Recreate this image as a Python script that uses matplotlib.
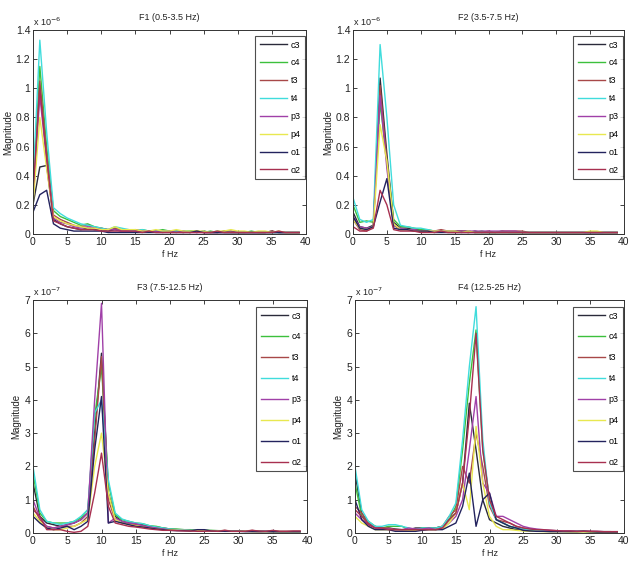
import matplotlib
matplotlib.use("Agg")
import matplotlib.pyplot as plt
from matplotlib import font_manager
import numpy as np

freqs = list(range(40))
channels = ["c3", "c4", "t3", "t4", "p3", "p4", "o1", "o2"]
colors = ["#2a2a3a", "#3cc03c", "#a84848", "#40dcdc", "#a040a8", "#e8e850", "#23235e", "#a83050"]

titles = ["F1 (0.5-3.5 Hz)", "F2 (3.5-7.5 Hz)", "F3 (7.5-12.5 Hz)", "F4 (12.5-25 Hz)"]
exponents = ["-6", "-6", "-7", "-7"]

# F1 magnitudes (x 1e-6)
f1_vals = [
    [0.20,0.46,0.47,0.10,0.07,0.05,0.04,0.03,0.04,0.03,
     0.03,0.02,0.03,0.02,0.02,0.02,0.02,0.02,0.02,0.02,
     0.02,0.02,0.01,0.02,0.01,0.02,0.01,0.01,0.01,0.01,
     0.01,0.01,0.01,0.01,0.01,0.02,0.01,0.01,0.01,0.01],
    [0.30,1.15,0.60,0.16,0.12,0.10,0.08,0.06,0.07,0.05,
     0.04,0.03,0.04,0.03,0.03,0.02,0.03,0.02,0.02,0.03,
     0.02,0.02,0.02,0.02,0.02,0.01,0.02,0.01,0.02,0.01,
     0.01,0.01,0.02,0.01,0.01,0.01,0.01,0.01,0.01,0.01],
    [0.25,1.05,0.55,0.13,0.10,0.08,0.06,0.05,0.06,0.04,
     0.04,0.03,0.04,0.03,0.02,0.03,0.02,0.02,0.02,0.02,
     0.02,0.02,0.02,0.01,0.02,0.01,0.01,0.01,0.02,0.02,
     0.01,0.01,0.01,0.01,0.01,0.02,0.01,0.01,0.01,0.01],
    [0.35,1.33,0.70,0.18,0.14,0.11,0.09,0.07,0.06,0.05,
     0.04,0.03,0.05,0.04,0.03,0.02,0.03,0.02,0.02,0.02,
     0.02,0.02,0.02,0.02,0.01,0.02,0.01,0.02,0.01,0.01,
     0.01,0.01,0.01,0.01,0.01,0.01,0.01,0.01,0.01,0.01],
    [0.22,0.95,0.50,0.11,0.08,0.07,0.05,0.04,0.05,0.04,
     0.03,0.03,0.03,0.02,0.02,0.02,0.02,0.02,0.02,0.01,
     0.02,0.01,0.02,0.01,0.01,0.01,0.01,0.01,0.01,0.01,
     0.01,0.01,0.01,0.01,0.01,0.01,0.01,0.01,0.01,0.01],
    [0.20,0.80,0.45,0.12,0.09,0.07,0.06,0.05,0.04,0.04,
     0.03,0.03,0.05,0.03,0.03,0.03,0.02,0.02,0.03,0.02,
     0.02,0.03,0.02,0.02,0.02,0.02,0.01,0.02,0.02,0.03,
     0.02,0.02,0.01,0.02,0.02,0.01,0.02,0.01,0.01,0.01],
    [0.15,0.27,0.30,0.07,0.04,0.03,0.02,0.02,0.02,0.02,
     0.02,0.01,0.01,0.01,0.01,0.01,0.01,0.01,0.01,0.01,
     0.01,0.01,0.01,0.01,0.02,0.01,0.01,0.01,0.01,0.01,
     0.01,0.01,0.01,0.01,0.01,0.01,0.01,0.01,0.01,0.01],
    [0.28,1.00,0.52,0.09,0.07,0.05,0.04,0.03,0.03,0.03,
     0.02,0.02,0.02,0.02,0.02,0.02,0.01,0.02,0.01,0.01,
     0.01,0.01,0.01,0.01,0.01,0.01,0.01,0.02,0.01,0.01,
     0.01,0.01,0.01,0.01,0.01,0.01,0.02,0.01,0.01,0.01],
]

# F2 magnitudes (x 1e-6)
f2_vals = [
    [0.15,0.05,0.04,0.06,1.07,0.55,0.08,0.04,0.04,0.03,
     0.03,0.02,0.02,0.02,0.02,0.02,0.02,0.01,0.02,0.01,
     0.01,0.01,0.01,0.01,0.01,0.01,0.01,0.01,0.01,0.01,
     0.01,0.01,0.01,0.01,0.01,0.01,0.01,0.01,0.01,0.01],
    [0.20,0.08,0.09,0.08,0.90,0.50,0.10,0.05,0.05,0.04,
     0.03,0.03,0.02,0.02,0.02,0.02,0.02,0.02,0.01,0.02,
     0.01,0.01,0.02,0.01,0.01,0.01,0.01,0.01,0.01,0.01,
     0.01,0.01,0.01,0.01,0.01,0.01,0.01,0.01,0.01,0.01],
    [0.10,0.03,0.02,0.05,1.02,0.50,0.06,0.03,0.03,0.03,
     0.02,0.02,0.02,0.03,0.02,0.02,0.02,0.02,0.01,0.01,
     0.02,0.01,0.02,0.02,0.02,0.02,0.01,0.01,0.01,0.01,
     0.01,0.01,0.01,0.01,0.01,0.01,0.01,0.01,0.01,0.01],
    [0.25,0.10,0.08,0.10,1.30,0.80,0.20,0.06,0.05,0.04,
     0.04,0.03,0.02,0.02,0.02,0.02,0.01,0.02,0.01,0.01,
     0.01,0.01,0.01,0.01,0.01,0.01,0.01,0.01,0.01,0.01,
     0.01,0.01,0.01,0.01,0.01,0.01,0.01,0.01,0.01,0.01],
    [0.12,0.05,0.04,0.05,0.95,0.45,0.06,0.04,0.03,0.03,
     0.02,0.02,0.02,0.02,0.02,0.02,0.02,0.02,0.02,0.02,
     0.02,0.02,0.02,0.02,0.02,0.01,0.01,0.01,0.01,0.01,
     0.01,0.01,0.01,0.01,0.01,0.01,0.01,0.01,0.01,0.01],
    [0.10,0.04,0.03,0.05,0.75,0.50,0.07,0.03,0.03,0.02,
     0.02,0.02,0.02,0.02,0.02,0.02,0.01,0.02,0.01,0.01,
     0.01,0.01,0.01,0.01,0.01,0.01,0.01,0.01,0.01,0.01,
     0.01,0.01,0.01,0.01,0.01,0.02,0.02,0.01,0.01,0.01],
    [0.12,0.04,0.03,0.05,0.22,0.38,0.04,0.03,0.03,0.02,
     0.02,0.02,0.01,0.01,0.01,0.01,0.01,0.01,0.01,0.01,
     0.01,0.01,0.01,0.01,0.01,0.01,0.01,0.01,0.01,0.01,
     0.01,0.01,0.01,0.01,0.01,0.01,0.01,0.01,0.01,0.01],
    [0.05,0.02,0.02,0.04,0.30,0.20,0.03,0.02,0.02,0.02,
     0.01,0.01,0.01,0.02,0.01,0.01,0.01,0.01,0.01,0.01,
     0.01,0.01,0.01,0.01,0.01,0.01,0.01,0.01,0.01,0.01,
     0.01,0.01,0.01,0.01,0.01,0.01,0.01,0.01,0.01,0.01],
]

# F3 magnitudes (x 1e-7)
f3_vals = [
    [1.50,0.50,0.30,0.25,0.20,0.25,0.30,0.40,0.60,3.00,
     5.40,1.20,0.50,0.35,0.30,0.28,0.25,0.20,0.18,0.15,
     0.12,0.10,0.10,0.08,0.08,0.08,0.07,0.07,0.06,0.06,
     0.06,0.05,0.05,0.05,0.05,0.04,0.04,0.04,0.04,0.04],
    [1.80,0.60,0.35,0.30,0.30,0.30,0.35,0.45,0.70,3.50,
     5.00,1.50,0.55,0.40,0.35,0.30,0.28,0.22,0.20,0.15,
     0.12,0.12,0.10,0.10,0.08,0.08,0.08,0.07,0.07,0.06,
     0.06,0.06,0.05,0.05,0.05,0.05,0.04,0.04,0.04,0.04],
    [0.80,0.40,0.20,0.15,0.20,0.20,0.20,0.30,0.50,2.80,
     5.30,1.00,0.40,0.30,0.28,0.25,0.22,0.18,0.15,0.12,
     0.10,0.10,0.08,0.08,0.08,0.07,0.07,0.06,0.08,0.06,
     0.05,0.06,0.08,0.05,0.05,0.06,0.05,0.05,0.05,0.05],
    [2.00,0.70,0.35,0.30,0.25,0.30,0.35,0.50,0.70,3.60,
     4.00,1.60,0.60,0.42,0.35,0.30,0.28,0.22,0.18,0.15,
     0.12,0.10,0.10,0.08,0.08,0.07,0.07,0.06,0.06,0.06,
     0.05,0.05,0.05,0.05,0.05,0.04,0.04,0.04,0.04,0.04],
    [1.00,0.45,0.20,0.15,0.20,0.25,0.30,0.40,0.60,4.00,
     6.90,0.30,0.45,0.35,0.30,0.28,0.22,0.18,0.15,0.12,
     0.10,0.08,0.08,0.07,0.07,0.06,0.06,0.06,0.05,0.05,
     0.05,0.05,0.05,0.04,0.05,0.04,0.04,0.04,0.04,0.04],
    [0.60,0.35,0.15,0.10,0.10,0.15,0.20,0.30,0.40,2.00,
     3.00,1.20,0.40,0.30,0.25,0.22,0.18,0.15,0.12,0.10,
     0.10,0.08,0.08,0.07,0.07,0.06,0.06,0.06,0.05,0.05,
     0.05,0.05,0.04,0.04,0.04,0.04,0.04,0.04,0.04,0.04],
    [0.50,0.30,0.15,0.10,0.15,0.20,0.10,0.20,0.35,2.50,
     4.10,0.30,0.35,0.30,0.25,0.20,0.18,0.15,0.12,0.10,
     0.08,0.07,0.07,0.06,0.10,0.10,0.06,0.05,0.05,0.05,
     0.05,0.04,0.04,0.04,0.04,0.04,0.04,0.04,0.04,0.04],
    [0.70,0.50,0.10,0.10,0.10,0.05,0.02,0.05,0.20,1.20,
     2.40,0.80,0.30,0.25,0.20,0.18,0.15,0.12,0.10,0.08,
     0.08,0.07,0.06,0.06,0.05,0.05,0.06,0.05,0.08,0.05,
     0.05,0.05,0.08,0.06,0.05,0.08,0.05,0.05,0.06,0.06],
]

# F4 magnitudes (x 1e-7)
f4_vals = [
    [1.80,0.60,0.30,0.15,0.12,0.15,0.12,0.10,0.10,0.15,
     0.15,0.15,0.15,0.20,0.40,0.60,1.50,3.90,2.50,1.00,
     0.40,0.30,0.20,0.15,0.10,0.08,0.07,0.06,0.06,0.05,
     0.05,0.05,0.05,0.05,0.05,0.04,0.04,0.04,0.04,0.03],
    [1.50,0.50,0.35,0.20,0.15,0.20,0.20,0.20,0.10,0.10,
     0.15,0.15,0.15,0.20,0.40,0.80,2.50,4.50,6.10,2.50,
     1.00,0.40,0.30,0.20,0.15,0.12,0.10,0.08,0.07,0.06,
     0.06,0.05,0.05,0.05,0.05,0.04,0.04,0.04,0.04,0.03],
    [0.80,0.60,0.30,0.20,0.15,0.15,0.10,0.10,0.10,0.10,
     0.10,0.12,0.15,0.20,0.50,0.70,2.00,1.50,3.00,2.00,
     0.80,0.40,0.35,0.30,0.20,0.15,0.12,0.10,0.08,0.08,
     0.07,0.06,0.06,0.05,0.05,0.05,0.04,0.04,0.04,0.04],
    [2.00,0.70,0.35,0.20,0.20,0.25,0.25,0.20,0.15,0.10,
     0.15,0.15,0.15,0.20,0.50,0.90,2.80,5.00,6.80,2.80,
     0.90,0.40,0.30,0.20,0.15,0.12,0.10,0.08,0.07,0.06,
     0.06,0.05,0.05,0.05,0.04,0.04,0.04,0.04,0.03,0.03],
    [0.60,0.40,0.25,0.15,0.12,0.12,0.10,0.10,0.15,0.12,
     0.12,0.15,0.10,0.15,0.30,0.50,1.00,2.50,4.10,1.50,
     1.20,0.50,0.50,0.40,0.30,0.20,0.15,0.12,0.10,0.08,
     0.07,0.06,0.06,0.05,0.05,0.05,0.05,0.04,0.04,0.04],
    [0.50,0.30,0.20,0.10,0.10,0.10,0.10,0.10,0.08,0.08,
     0.10,0.10,0.10,0.12,0.30,0.60,1.50,0.70,3.20,1.50,
     0.50,0.20,0.10,0.10,0.08,0.06,0.05,0.05,0.04,0.04,
     0.04,0.04,0.03,0.03,0.03,0.03,0.03,0.03,0.03,0.03],
    [1.00,0.40,0.20,0.10,0.10,0.10,0.05,0.05,0.05,0.05,
     0.08,0.10,0.10,0.10,0.20,0.30,0.80,1.80,0.20,1.00,
     1.20,0.40,0.30,0.20,0.15,0.08,0.06,0.05,0.05,0.04,
     0.04,0.04,0.04,0.04,0.05,0.04,0.03,0.03,0.03,0.03],
    [0.70,0.50,0.25,0.15,0.15,0.10,0.10,0.10,0.10,0.10,
     0.10,0.10,0.10,0.15,0.40,0.60,1.50,3.50,6.00,2.50,
     1.00,0.50,0.40,0.30,0.20,0.15,0.12,0.10,0.10,0.08,
     0.07,0.06,0.06,0.05,0.05,0.05,0.05,0.04,0.04,0.04],
]

xticks = [0, 5, 10, 15, 20, 25, 30, 35, 40]
yticks_top = [0, 0.2, 0.4, 0.6, 0.8, 1.0, 1.2, 1.4]
ytick_labels_top = ["0", "0.2", "0.4", "0.6", "0.8", "1", "1.2", "1.4"]
yticks_bot = [0, 1, 2, 3, 4, 5, 6, 7]
ytick_labels_bot = ["0", "1", "2", "3", "4", "5", "6", "7"]

installed = {f.name for f in font_manager.fontManager.ttflist}
fam = [f for f in ['Liberation Sans Narrow', 'Liberation Sans', 'DejaVu Sans'] if f in installed]
plt.rcParams['font.family'] = fam

fig = plt.figure(figsize=(6.29, 5.69), dpi=100)
W, H = 629.0, 569.0
boxes = [
    (33, 306, 30, 234),
    (353, 624, 30, 234),
    (33, 307, 300, 533),
    (355, 624, 300, 533),
]
leg_spacing = [0.98, 0.98, 1.32, 1.32]
all_vals = [f1_vals, f2_vals, f3_vals, f4_vals]

for i, (l, r, t, b) in enumerate(boxes):
    ax = fig.add_axes([l / W, 1 - b / H, (r - l) / W, (b - t) / H])
    for ch, col, vals in zip(channels, colors, all_vals[i]):
        ax.plot(freqs, vals, color=col, lw=1.0, label=ch)
    ax.set_xlim(0, 40)
    ax.set_xticks(xticks)
    if i < 2:
        ax.set_ylim(0, 1.4)
        ax.set_yticks(yticks_top)
        ax.set_yticklabels(ytick_labels_top)
    else:
        ax.set_ylim(0, 7)
        ax.set_yticks(yticks_bot)
        ax.set_yticklabels(ytick_labels_bot)
    ax.tick_params(direction='in', top=True, right=True, labelsize=7.5,
                   length=3, width=0.6, pad=2, colors='#222222')
    for s in ax.spines.values():
        s.set_linewidth(0.7)
        s.set_color('#333333')
    ax.set_title(titles[i], fontsize=6.5, pad=7, color='#222222')
    ax.set_xlabel("f Hz", fontsize=6.5, labelpad=2, color='#222222')
    ax.set_ylabel("Magnitude", fontsize=7, labelpad=2, color='#222222')
    ax.text(0.0, 1.01, r"x 10$^{%s}$" % exponents[i], transform=ax.transAxes,
            fontsize=6.5, ha='left', va='bottom', color='#222222')
    leg = ax.legend(loc='upper right', bbox_to_anchor=(0.997, 0.97), fontsize=6.5,
                    frameon=True, fancybox=False, handlelength=3.0, labelspacing=leg_spacing[i],
                    borderpad=0.5, handletextpad=0.4, borderaxespad=0.0)
    leg.get_frame().set_edgecolor('#222222')
    leg.get_frame().set_linewidth(0.8)

fig.savefig("out.png", dpi=100)
